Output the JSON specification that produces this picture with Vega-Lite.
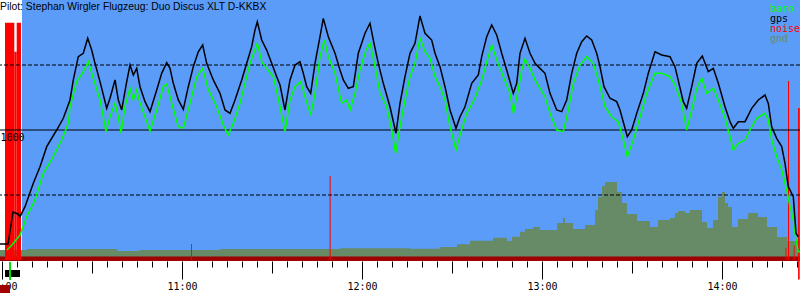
{
  "$schema": "https://vega.github.io/schema/vega-lite/v6.json",
  "width": 800,
  "height": 260,
  "autosize": "none",
  "padding": {"left": 0, "top": 0, "right": 0, "bottom": 40},
  "background": "white",
  "title": {"text": "Pilot: Stephan Wirgler Flugzeug: Duo Discus XLT D-KKBX", "anchor": "start", "frame": "group", "offset": -20, "baseline": "alphabetic", "font": "Liberation Sans", "fontSize": 10.35, "fontWeight": "normal", "color": "black"},
  "config": {
    "view": {"stroke": null},
    "legend": {"orient": "none", "legendX": 760, "legendY": 4, "title": null, "symbolOpacity": 0, "symbolSize": 0, "symbolStrokeWidth": 0, "labelFont": "DejaVu Sans Mono", "labelFontSize": 10, "labelOffset": 0, "rowPadding": 0, "padding": 0, "labelColor": {"expr": "scale('color', datum.value)"}}
  },
  "resolve": {"axis": {"x": "independent"}},
  "datasets": {
    "bg": [{"t0": 6.67, "t1": 266, "a0": 0, "a1": 2000}],
    "gnd": [
      {"t": -0.67, "alt": 77}, {"t": 8.33, "alt": 85}, {"t": 38.33, "alt": 69}, {"t": 46, "alt": 77}, {"t": 72.67, "alt": 85}, {"t": 112.67, "alt": 90}, {"t": 121, "alt": 90}, {"t": 136, "alt": 87}, {"t": 146, "alt": 100}, {"t": 151.67, "alt": 121}, {"t": 156, "alt": 148}, {"t": 163.67, "alt": 172}, {"t": 168.33, "alt": 146}, {"t": 170, "alt": 179}, {"t": 172.67, "alt": 218}, {"t": 174.33, "alt": 238}, {"t": 177, "alt": 254}, {"t": 179.33, "alt": 231}, {"t": 185, "alt": 285}, {"t": 187, "alt": 323}, {"t": 187.67, "alt": 285}, {"t": 190.33, "alt": 238}, {"t": 194.33, "alt": 269}, {"t": 197.67, "alt": 385}, {"t": 198.67, "alt": 485}, {"t": 200, "alt": 569}, {"t": 201, "alt": 600}, {"t": 205, "alt": 523}, {"t": 206.67, "alt": 438}, {"t": 208.33, "alt": 354}, {"t": 211.67, "alt": 300}, {"t": 216, "alt": 254}, {"t": 218.67, "alt": 308}, {"t": 222.67, "alt": 323}, {"t": 224.33, "alt": 362}, {"t": 225.33, "alt": 377}, {"t": 227.67, "alt": 362}, {"t": 229.33, "alt": 385}, {"t": 233.33, "alt": 292}, {"t": 235, "alt": 246}, {"t": 237, "alt": 308}, {"t": 238.67, "alt": 485}, {"t": 240, "alt": 523}, {"t": 241, "alt": 438}, {"t": 242, "alt": 408}, {"t": 243.33, "alt": 254}, {"t": 245.33, "alt": 315}, {"t": 248.67, "alt": 362}, {"t": 252, "alt": 331}, {"t": 255, "alt": 254}, {"t": 258.33, "alt": 177}, {"t": 261.67, "alt": 146}, {"t": 266, "alt": 146}
    ],
    "noise": [
      {"t0": 1.0, "t1": 4.1, "base": 0, "v": 1825}, {"t0": 4.1, "t1": 4.9, "base": 0, "v": 1602}, {"t0": 4.9, "t1": 6.33, "base": 0, "v": 1825},
      {"t0": 63.0, "t1": 63.3, "base": 0, "v": 123}, {"t0": 109.2, "t1": 109.55, "base": 0, "v": 646},
      {"t0": 261.2, "t1": 261.5, "base": 0, "v": 90}, {"t0": 262.0, "t1": 262.35, "base": 0, "v": 1377}, {"t0": 263.9, "t1": 264.2, "base": 0, "v": 110}, {"t0": 265.35, "t1": 265.9, "base": -150, "v": 1169}
    ],
    "levels": [{"level": 500, "kind": "half"}, {"level": 1000, "kind": "full"}, {"level": 1500, "kind": "half"}],
    "marks": [
      {"kind": "start", "t0": 1.0, "t1": 6.0, "a0": -77, "a1": -131},
      {"kind": "release", "t0": 2.35, "t1": 3.0, "a0": -15, "a1": -154},
      {"kind": "ground", "t0": -0.67, "t1": 2.67, "a0": -192, "a1": -254}
    ],
    "flight": [
      {"series": "baro", "t": 1.67, "alt": 77}, {"series": "baro", "t": 3.33, "alt": 115}, {"series": "baro", "t": 4.67, "alt": 154}, {"series": "baro", "t": 6.0, "alt": 192}, {"series": "baro", "t": 8.23, "alt": 333}, {"series": "baro", "t": 11.0, "alt": 462}, {"series": "baro", "t": 13.77, "alt": 667}, {"series": "baro", "t": 17.1, "alt": 795}, {"series": "baro", "t": 19.9, "alt": 923}, {"series": "baro", "t": 22.1, "alt": 1051}, {"series": "baro", "t": 22.67, "alt": 1179}, {"series": "baro", "t": 24.9, "alt": 1372}, {"series": "baro", "t": 27.1, "alt": 1449}, {"series": "baro", "t": 28.77, "alt": 1526}, {"series": "baro", "t": 30.43, "alt": 1397}, {"series": "baro", "t": 32.67, "alt": 1231}, {"series": "baro", "t": 34.67, "alt": 987}, {"series": "baro", "t": 36.0, "alt": 1102}, {"series": "baro", "t": 37.67, "alt": 1205}, {"series": "baro", "t": 38.77, "alt": 1102}, {"series": "baro", "t": 39.67, "alt": 975}, {"series": "baro", "t": 41.0, "alt": 1179}, {"series": "baro", "t": 42.67, "alt": 1321}, {"series": "baro", "t": 43.77, "alt": 1231}, {"series": "baro", "t": 44.9, "alt": 1308}, {"series": "baro", "t": 46.0, "alt": 1205}, {"series": "baro", "t": 47.67, "alt": 1102}, {"series": "baro", "t": 49.33, "alt": 992}, {"series": "baro", "t": 51.57, "alt": 1154}, {"series": "baro", "t": 53.77, "alt": 1333}, {"series": "baro", "t": 54.9, "alt": 1354}, {"series": "baro", "t": 56.57, "alt": 1205}, {"series": "baro", "t": 58.77, "alt": 1025}, {"series": "baro", "t": 60.43, "alt": 1013}, {"series": "baro", "t": 62.67, "alt": 1205}, {"series": "baro", "t": 64.9, "alt": 1410}, {"series": "baro", "t": 66.9, "alt": 1474}, {"series": "baro", "t": 68.77, "alt": 1308}, {"series": "baro", "t": 71.57, "alt": 1179}, {"series": "baro", "t": 73.77, "alt": 1038}, {"series": "baro", "t": 75.43, "alt": 962}, {"series": "baro", "t": 77.1, "alt": 1051}, {"series": "baro", "t": 79.33, "alt": 1205}, {"series": "baro", "t": 81.0, "alt": 1359}, {"series": "baro", "t": 82.67, "alt": 1513}, {"series": "baro", "t": 85.1, "alt": 1667}, {"series": "baro", "t": 86.57, "alt": 1526}, {"series": "baro", "t": 88.23, "alt": 1474}, {"series": "baro", "t": 90.43, "alt": 1410}, {"series": "baro", "t": 92.1, "alt": 1244}, {"series": "baro", "t": 92.67, "alt": 1179}, {"series": "baro", "t": 94.33, "alt": 987}, {"series": "baro", "t": 96.0, "alt": 1231}, {"series": "baro", "t": 97.67, "alt": 1333}, {"series": "baro", "t": 99.57, "alt": 1372}, {"series": "baro", "t": 101.0, "alt": 1256}, {"series": "baro", "t": 102.9, "alt": 1115}, {"series": "baro", "t": 104.33, "alt": 1282}, {"series": "baro", "t": 106.0, "alt": 1564}, {"series": "baro", "t": 107.43, "alt": 1692}, {"series": "baro", "t": 108.77, "alt": 1564}, {"series": "baro", "t": 111.0, "alt": 1436}, {"series": "baro", "t": 113.23, "alt": 1205}, {"series": "baro", "t": 114.9, "alt": 1231}, {"series": "baro", "t": 116.0, "alt": 1154}, {"series": "baro", "t": 117.67, "alt": 1282}, {"series": "baro", "t": 119.33, "alt": 1462}, {"series": "baro", "t": 121.33, "alt": 1615}, {"series": "baro", "t": 122.67, "alt": 1667}, {"series": "baro", "t": 124.33, "alt": 1487}, {"series": "baro", "t": 126.0, "alt": 1282}, {"series": "baro", "t": 128.23, "alt": 1179}, {"series": "baro", "t": 129.9, "alt": 1000}, {"series": "baro", "t": 131.23, "alt": 821}, {"series": "baro", "t": 132.67, "alt": 1025}, {"series": "baro", "t": 134.33, "alt": 1231}, {"series": "baro", "t": 136.0, "alt": 1410}, {"series": "baro", "t": 137.67, "alt": 1513}, {"series": "baro", "t": 139.33, "alt": 1705}, {"series": "baro", "t": 141.0, "alt": 1602}, {"series": "baro", "t": 142.67, "alt": 1551}, {"series": "baro", "t": 144.33, "alt": 1410}, {"series": "baro", "t": 146.0, "alt": 1333}, {"series": "baro", "t": 147.67, "alt": 1231}, {"series": "baro", "t": 149.33, "alt": 1025}, {"series": "baro", "t": 151.33, "alt": 846}, {"series": "baro", "t": 152.67, "alt": 962}, {"series": "baro", "t": 154.9, "alt": 1128}, {"series": "baro", "t": 157.67, "alt": 1244}, {"series": "baro", "t": 159.9, "alt": 1385}, {"series": "baro", "t": 162.1, "alt": 1564}, {"series": "baro", "t": 163.23, "alt": 1654}, {"series": "baro", "t": 164.9, "alt": 1538}, {"series": "baro", "t": 167.1, "alt": 1410}, {"series": "baro", "t": 169.33, "alt": 1282}, {"series": "baro", "t": 170.43, "alt": 1128}, {"series": "baro", "t": 172.1, "alt": 1308}, {"series": "baro", "t": 173.23, "alt": 1462}, {"series": "baro", "t": 174.33, "alt": 1544}, {"series": "baro", "t": 176.0, "alt": 1474}, {"series": "baro", "t": 177.67, "alt": 1385}, {"series": "baro", "t": 179.33, "alt": 1321}, {"series": "baro", "t": 181.0, "alt": 1256}, {"series": "baro", "t": 182.67, "alt": 1128}, {"series": "baro", "t": 184.9, "alt": 1000}, {"series": "baro", "t": 187.1, "alt": 987}, {"series": "baro", "t": 188.77, "alt": 1154}, {"series": "baro", "t": 190.43, "alt": 1359}, {"series": "baro", "t": 192.67, "alt": 1500}, {"series": "baro", "t": 194.9, "alt": 1564}, {"series": "baro", "t": 197.1, "alt": 1513}, {"series": "baro", "t": 198.77, "alt": 1385}, {"series": "baro", "t": 201.0, "alt": 1179}, {"series": "baro", "t": 203.23, "alt": 1102}, {"series": "baro", "t": 205.43, "alt": 1064}, {"series": "baro", "t": 207.1, "alt": 923}, {"series": "baro", "t": 208.43, "alt": 795}, {"series": "baro", "t": 210.43, "alt": 923}, {"series": "baro", "t": 212.67, "alt": 1102}, {"series": "baro", "t": 214.9, "alt": 1282}, {"series": "baro", "t": 217.67, "alt": 1436}, {"series": "baro", "t": 219.9, "alt": 1436}, {"series": "baro", "t": 222.67, "alt": 1410}, {"series": "baro", "t": 224.33, "alt": 1346}, {"series": "baro", "t": 226.57, "alt": 1205}, {"series": "baro", "t": 228.23, "alt": 1000}, {"series": "baro", "t": 229.9, "alt": 1154}, {"series": "baro", "t": 231.57, "alt": 1321}, {"series": "baro", "t": 233.23, "alt": 1398}, {"series": "baro", "t": 234.9, "alt": 1282}, {"series": "baro", "t": 237.1, "alt": 1321}, {"series": "baro", "t": 238.77, "alt": 1231}, {"series": "baro", "t": 241.0, "alt": 1090}, {"series": "baro", "t": 242.67, "alt": 948}, {"series": "baro", "t": 243.77, "alt": 846}, {"series": "baro", "t": 245.43, "alt": 898}, {"series": "baro", "t": 247.67, "alt": 923}, {"series": "baro", "t": 249.33, "alt": 1000}, {"series": "baro", "t": 251.57, "alt": 1090}, {"series": "baro", "t": 254.33, "alt": 1128}, {"series": "baro", "t": 255.43, "alt": 1077}, {"series": "baro", "t": 256.57, "alt": 923}, {"series": "baro", "t": 258.23, "alt": 795}, {"series": "baro", "t": 259.9, "alt": 692}, {"series": "baro", "t": 261.57, "alt": 538}, {"series": "baro", "t": 262.67, "alt": 410}, {"series": "baro", "t": 263.77, "alt": 308}, {"series": "baro", "t": 264.67, "alt": 154}, {"series": "baro", "t": 265.43, "alt": 64}, {"series": "baro", "t": 266.0, "alt": 64},
      {"series": "gps", "t": -0.67, "alt": 123}, {"series": "gps", "t": 2.0, "alt": 123}, {"series": "gps", "t": 3.67, "alt": 369}, {"series": "gps", "t": 5.33, "alt": 354}, {"series": "gps", "t": 6.0, "alt": 333}, {"series": "gps", "t": 7.67, "alt": 410}, {"series": "gps", "t": 10.43, "alt": 590}, {"series": "gps", "t": 12.67, "alt": 718}, {"series": "gps", "t": 14.9, "alt": 872}, {"series": "gps", "t": 18.23, "alt": 1000}, {"series": "gps", "t": 20.43, "alt": 1090}, {"series": "gps", "t": 22.67, "alt": 1231}, {"series": "gps", "t": 23.77, "alt": 1385}, {"series": "gps", "t": 25.43, "alt": 1564}, {"series": "gps", "t": 27.1, "alt": 1590}, {"series": "gps", "t": 28.57, "alt": 1705}, {"series": "gps", "t": 29.9, "alt": 1615}, {"series": "gps", "t": 31.0, "alt": 1513}, {"series": "gps", "t": 32.67, "alt": 1372}, {"series": "gps", "t": 34.9, "alt": 1167}, {"series": "gps", "t": 36.0, "alt": 1244}, {"series": "gps", "t": 37.67, "alt": 1385}, {"series": "gps", "t": 38.77, "alt": 1231}, {"series": "gps", "t": 39.9, "alt": 1154}, {"series": "gps", "t": 41.57, "alt": 1372}, {"series": "gps", "t": 42.67, "alt": 1500}, {"series": "gps", "t": 43.77, "alt": 1423}, {"series": "gps", "t": 44.9, "alt": 1474}, {"series": "gps", "t": 46.0, "alt": 1333}, {"series": "gps", "t": 47.67, "alt": 1218}, {"series": "gps", "t": 49.33, "alt": 1141}, {"series": "gps", "t": 51.57, "alt": 1308}, {"series": "gps", "t": 53.23, "alt": 1436}, {"series": "gps", "t": 54.9, "alt": 1518}, {"series": "gps", "t": 56.0, "alt": 1474}, {"series": "gps", "t": 57.1, "alt": 1359}, {"series": "gps", "t": 58.77, "alt": 1231}, {"series": "gps", "t": 60.43, "alt": 1159}, {"series": "gps", "t": 62.1, "alt": 1333}, {"series": "gps", "t": 63.77, "alt": 1487}, {"series": "gps", "t": 65.43, "alt": 1602}, {"series": "gps", "t": 66.9, "alt": 1654}, {"series": "gps", "t": 68.23, "alt": 1513}, {"series": "gps", "t": 70.43, "alt": 1385}, {"series": "gps", "t": 72.67, "alt": 1282}, {"series": "gps", "t": 74.33, "alt": 1154}, {"series": "gps", "t": 76.0, "alt": 1128}, {"series": "gps", "t": 77.67, "alt": 1231}, {"series": "gps", "t": 79.9, "alt": 1385}, {"series": "gps", "t": 81.57, "alt": 1513}, {"series": "gps", "t": 83.23, "alt": 1641}, {"series": "gps", "t": 84.33, "alt": 1769}, {"series": "gps", "t": 85.1, "alt": 1833}, {"series": "gps", "t": 86.57, "alt": 1692}, {"series": "gps", "t": 88.23, "alt": 1615}, {"series": "gps", "t": 89.9, "alt": 1513}, {"series": "gps", "t": 91.57, "alt": 1410}, {"series": "gps", "t": 92.67, "alt": 1346}, {"series": "gps", "t": 94.33, "alt": 1154}, {"series": "gps", "t": 96.0, "alt": 1385}, {"series": "gps", "t": 97.67, "alt": 1500}, {"series": "gps", "t": 99.33, "alt": 1525}, {"series": "gps", "t": 100.43, "alt": 1436}, {"series": "gps", "t": 101.57, "alt": 1333}, {"series": "gps", "t": 102.9, "alt": 1282}, {"series": "gps", "t": 104.33, "alt": 1513}, {"series": "gps", "t": 106.0, "alt": 1718}, {"series": "gps", "t": 107.1, "alt": 1859}, {"series": "gps", "t": 108.77, "alt": 1718}, {"series": "gps", "t": 111.0, "alt": 1590}, {"series": "gps", "t": 112.67, "alt": 1462}, {"series": "gps", "t": 113.77, "alt": 1385}, {"series": "gps", "t": 115.43, "alt": 1321}, {"series": "gps", "t": 117.1, "alt": 1333}, {"series": "gps", "t": 118.77, "alt": 1590}, {"series": "gps", "t": 121.0, "alt": 1744}, {"series": "gps", "t": 122.67, "alt": 1821}, {"series": "gps", "t": 124.0, "alt": 1667}, {"series": "gps", "t": 125.43, "alt": 1513}, {"series": "gps", "t": 127.1, "alt": 1359}, {"series": "gps", "t": 129.33, "alt": 1179}, {"series": "gps", "t": 131.33, "alt": 975}, {"series": "gps", "t": 132.67, "alt": 1205}, {"series": "gps", "t": 134.33, "alt": 1410}, {"series": "gps", "t": 136.0, "alt": 1590}, {"series": "gps", "t": 137.67, "alt": 1667}, {"series": "gps", "t": 139.33, "alt": 1877}, {"series": "gps", "t": 141.0, "alt": 1744}, {"series": "gps", "t": 143.23, "alt": 1692}, {"series": "gps", "t": 144.33, "alt": 1590}, {"series": "gps", "t": 146.0, "alt": 1487}, {"series": "gps", "t": 147.67, "alt": 1333}, {"series": "gps", "t": 149.33, "alt": 1154}, {"series": "gps", "t": 151.33, "alt": 1013}, {"series": "gps", "t": 152.67, "alt": 1102}, {"series": "gps", "t": 154.33, "alt": 1179}, {"series": "gps", "t": 156.57, "alt": 1359}, {"series": "gps", "t": 158.77, "alt": 1423}, {"series": "gps", "t": 159.9, "alt": 1564}, {"series": "gps", "t": 161.57, "alt": 1718}, {"series": "gps", "t": 163.23, "alt": 1808}, {"series": "gps", "t": 164.9, "alt": 1731}, {"series": "gps", "t": 166.57, "alt": 1590}, {"series": "gps", "t": 168.23, "alt": 1462}, {"series": "gps", "t": 170.43, "alt": 1282}, {"series": "gps", "t": 171.57, "alt": 1359}, {"series": "gps", "t": 172.67, "alt": 1590}, {"series": "gps", "t": 174.33, "alt": 1705}, {"series": "gps", "t": 176.0, "alt": 1590}, {"series": "gps", "t": 177.67, "alt": 1513}, {"series": "gps", "t": 179.33, "alt": 1474}, {"series": "gps", "t": 181.0, "alt": 1436}, {"series": "gps", "t": 182.67, "alt": 1282}, {"series": "gps", "t": 184.9, "alt": 1154}, {"series": "gps", "t": 186.57, "alt": 1141}, {"series": "gps", "t": 188.23, "alt": 1231}, {"series": "gps", "t": 189.9, "alt": 1436}, {"series": "gps", "t": 191.57, "alt": 1590}, {"series": "gps", "t": 193.23, "alt": 1679}, {"series": "gps", "t": 194.9, "alt": 1723}, {"series": "gps", "t": 196.57, "alt": 1692}, {"series": "gps", "t": 198.23, "alt": 1590}, {"series": "gps", "t": 199.33, "alt": 1487}, {"series": "gps", "t": 200.67, "alt": 1333}, {"series": "gps", "t": 202.67, "alt": 1244}, {"series": "gps", "t": 204.9, "alt": 1218}, {"series": "gps", "t": 206.0, "alt": 1154}, {"series": "gps", "t": 207.67, "alt": 1013}, {"series": "gps", "t": 208.43, "alt": 949}, {"series": "gps", "t": 209.9, "alt": 1000}, {"series": "gps", "t": 211.57, "alt": 1128}, {"series": "gps", "t": 213.77, "alt": 1282}, {"series": "gps", "t": 215.43, "alt": 1436}, {"series": "gps", "t": 217.67, "alt": 1602}, {"series": "gps", "t": 219.9, "alt": 1577}, {"series": "gps", "t": 222.67, "alt": 1564}, {"series": "gps", "t": 224.33, "alt": 1487}, {"series": "gps", "t": 227.1, "alt": 1218}, {"series": "gps", "t": 228.23, "alt": 1167}, {"series": "gps", "t": 229.9, "alt": 1333}, {"series": "gps", "t": 231.57, "alt": 1513}, {"series": "gps", "t": 233.43, "alt": 1569}, {"series": "gps", "t": 235.43, "alt": 1449}, {"series": "gps", "t": 237.1, "alt": 1474}, {"series": "gps", "t": 238.77, "alt": 1359}, {"series": "gps", "t": 241.0, "alt": 1179}, {"series": "gps", "t": 242.67, "alt": 1064}, {"series": "gps", "t": 243.77, "alt": 1013}, {"series": "gps", "t": 245.43, "alt": 1064}, {"series": "gps", "t": 247.67, "alt": 1064}, {"series": "gps", "t": 249.9, "alt": 1167}, {"series": "gps", "t": 252.1, "alt": 1231}, {"series": "gps", "t": 254.33, "alt": 1269}, {"series": "gps", "t": 255.43, "alt": 1205}, {"series": "gps", "t": 256.57, "alt": 1025}, {"series": "gps", "t": 258.23, "alt": 936}, {"series": "gps", "t": 259.9, "alt": 872}, {"series": "gps", "t": 261.0, "alt": 744}, {"series": "gps", "t": 262.1, "alt": 564}, {"series": "gps", "t": 263.77, "alt": 487}, {"series": "gps", "t": 264.67, "alt": 205}, {"series": "gps", "t": 265.43, "alt": 179}
    ]
  },
  "layer": [
    {
      "data": {"name": "bg"},
      "mark": {"type": "rect", "color": "#5a9cf8"},
      "encoding": {
        "x": {"field": "t0", "type": "quantitative", "scale": {"domain": [-0.6667, 266], "nice": false, "zero": false},
          "axis": {"orient": "bottom", "values": [5,10,15,20,25,35,40,45,50,55,65,70,75,80,85,95,100,105,110,115,125,130,135,140,145,155,160,165,170,175,185,190,195,200,205,215,220,225,230,235,245,250,255,260,265],
            "title": null, "domain": false, "grid": false, "offset": 1, "tickColor": "black", "tickWidth": 1, "tickSize": 6, "labels": false}},
        "x2": {"field": "t1"},
        "y": {"field": "a0", "type": "quantitative", "scale": {"domain": [0, 2000], "nice": false, "zero": false},
          "axis": {"values": [1000], "format": "d", "title": null, "domain": false, "ticks": false, "grid": false, "labelAlign": "left", "labelBaseline": "top", "labelPadding": 0, "labelOffset": 2, "labelFont": "DejaVu Sans Mono", "labelFontSize": 10, "labelColor": "black", "zindex": 1}},
        "y2": {"field": "a1"}
      }
    },
    {
      "data": {"name": "gnd"},
      "mark": {"type": "area", "interpolate": "step-after", "color": "#678b66", "opacity": 1},
      "encoding": {
        "x": {"field": "t", "type": "quantitative",
          "axis": {"orient": "bottom", "values": [30, 90, 150, 210], "title": null, "domain": false, "grid": false, "offset": 1, "tickColor": "black", "tickWidth": 1, "tickSize": 12, "labels": false}},
        "y": {"field": "alt", "type": "quantitative"}
      }
    },
    {
      "data": {"values": [{"t0": -0.67, "t1": 266, "a0": -8, "a1": 26}]},
      "mark": {"type": "rect", "color": "#a00000"},
      "encoding": {
        "x": {"field": "t0", "type": "quantitative",
          "axis": {"orient": "bottom", "values": [0, 60, 120, 180, 240], "title": null, "domain": false, "grid": false, "offset": 1, "tickColor": "black", "tickWidth": 1, "tickSize": 18,
            "labelExpr": "(10 + datum.value / 60) + ':00'",
            "labelFont": "DejaVu Sans Mono", "labelFontSize": 10, "labelColor": "black", "labelBaseline": "top", "labelPadding": 2, "labelFlush": false, "labelOverlap": false, "labelBound": false}},
        "x2": {"field": "t1"},
        "y": {"field": "a0", "type": "quantitative"},
        "y2": {"field": "a1"}
      }
    },
    {
      "data": {"name": "noise"},
      "mark": {"type": "rect", "color": "#ff0000"},
      "encoding": {
        "x": {"field": "t0", "type": "quantitative", "axis": null},
        "x2": {"field": "t1"},
        "y": {"field": "v", "type": "quantitative"},
        "y2": {"field": "base"}
      }
    },
    {
      "data": {"name": "levels"},
      "transform": [{"filter": "datum.kind === 'half'"}],
      "mark": {"type": "rule", "color": "black", "strokeWidth": 1, "strokeDash": [4, 2]},
      "encoding": {"y": {"field": "level", "type": "quantitative"}}
    },
    {
      "data": {"name": "levels"},
      "transform": [{"filter": "datum.kind === 'full'"}],
      "mark": {"type": "rule", "color": "black", "strokeWidth": 1},
      "encoding": {"y": {"field": "level", "type": "quantitative"}}
    },
    {
      "data": {"name": "flight"},
      "mark": {"type": "line", "strokeWidth": 1.5, "interpolate": "linear"},
      "encoding": {
        "x": {"field": "t", "type": "quantitative", "axis": null},
        "y": {"field": "alt", "type": "quantitative"},
        "color": {"field": "series", "type": "nominal", "scale": {"domain": ["baro", "gps", "noise", "gnd"], "range": ["#00ff00", "#000000", "#ff0000", "#678b66"]}}
      }
    },
    {
      "data": {"name": "marks"},
      "transform": [{"filter": "datum.kind === 'start'"}],
      "mark": {"type": "rect", "color": "black"},
      "encoding": {"x": {"field": "t0", "type": "quantitative", "axis": null}, "x2": {"field": "t1"}, "y": {"field": "a0", "type": "quantitative"}, "y2": {"field": "a1"}}
    },
    {
      "data": {"name": "marks"},
      "transform": [{"filter": "datum.kind === 'release'"}],
      "mark": {"type": "rect", "color": "#00dd00"},
      "encoding": {"x": {"field": "t0", "type": "quantitative", "axis": null}, "x2": {"field": "t1"}, "y": {"field": "a0", "type": "quantitative"}, "y2": {"field": "a1"}}
    },
    {
      "data": {"name": "marks"},
      "transform": [{"filter": "datum.kind === 'ground'"}],
      "mark": {"type": "rect", "color": "#a00000"},
      "encoding": {"x": {"field": "t0", "type": "quantitative", "axis": null}, "x2": {"field": "t1"}, "y": {"field": "a0", "type": "quantitative"}, "y2": {"field": "a1"}}
    }
  ]
}
